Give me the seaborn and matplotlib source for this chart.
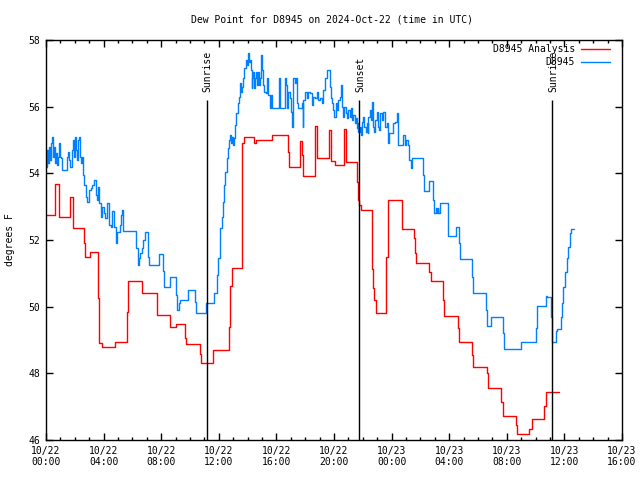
import matplotlib
matplotlib.use("Agg")
import matplotlib.pyplot as plt
import seaborn as sns
import pandas as pd
from matplotlib.lines import Line2D
from matplotlib.ticker import MultipleLocator

# ---- data (hours after 2024-10-22 00:00 UTC, dew point in degrees F) ----
analysis_hours = [0.00, 0.62, 0.90, 1.67, 1.85, 2.66, 2.71, 3.06, 3.63, 3.68, 3.91, 4.79,
                  5.65, 5.72, 6.65, 7.69, 8.61, 9.03, 9.65, 9.72, 10.69, 10.76, 11.62,
                  12.71, 12.78, 12.81, 12.90, 13.59, 13.63, 13.75, 14.47, 14.58, 15.67,
                  16.78, 16.90, 17.67, 17.81, 17.87, 18.68, 18.84, 19.63, 19.79, 20.07,
                  20.66, 20.83, 21.58, 21.69, 21.77, 21.88, 22.62, 22.67, 22.74, 22.81,
                  22.90, 23.61, 23.72, 24.70, 25.58, 25.62, 25.69, 26.62, 26.72, 27.60,
                  27.67, 28.63, 28.70, 29.60, 29.67, 30.60, 30.66, 30.72, 31.60, 31.72,
                  32.62, 32.69, 33.54, 33.73, 34.60, 34.70, 35.62]
analysis_values = [52.75, 53.67, 52.70, 53.30, 52.36, 51.90, 51.50, 51.63, 50.26, 48.92, 48.79, 48.93,
                   49.85, 50.77, 50.40, 49.75, 49.38, 49.47, 49.05, 48.87, 48.58, 48.30, 48.69,
                   49.40, 50.10, 50.62, 51.15, 51.45, 54.90, 55.08, 54.92, 55.00, 55.14,
                   54.65, 54.20, 54.97, 54.55, 53.92, 55.43, 54.45, 55.30, 54.37, 54.25,
                   55.33, 54.35, 53.75, 53.20, 53.05, 52.90, 52.30, 51.13, 50.55, 50.20,
                   49.80, 51.50, 53.20, 52.32, 52.05, 51.60, 51.30, 51.05, 50.78, 50.20,
                   49.72, 49.35, 48.93, 48.55, 48.18, 48.00, 47.73, 47.55, 47.15, 46.72,
                   46.45, 46.17, 46.33, 46.62, 47.02, 47.43, 47.43]

obs_hours = [0.00, 0.07, 0.14, 0.21, 0.28, 0.35, 0.42, 0.49, 0.56, 0.62, 0.69, 0.76, 0.83,
             0.90, 0.97, 1.04, 1.11, 1.46, 1.53, 1.60, 1.67, 1.81, 1.88, 1.94, 2.01, 2.08,
             2.15, 2.22, 2.29, 2.36, 2.43, 2.50, 2.57, 2.64, 2.78, 2.87, 2.99, 3.10, 3.22,
             3.33, 3.45, 3.56, 3.63, 3.68, 3.80, 3.84, 3.91, 4.03, 4.10, 4.22, 4.26, 4.38,
             4.49, 4.56, 4.72, 4.84, 4.91, 5.14, 5.23, 5.30, 5.37, 5.42, 6.23, 6.37, 6.46,
             6.53, 6.67, 6.77, 6.88, 7.05, 7.10, 7.17, 7.87, 8.15, 8.19, 8.61, 9.03, 9.08,
             9.24, 9.31, 9.88, 10.38, 10.42, 11.11, 11.67, 11.85, 11.97, 12.08, 12.20,
             12.27, 12.36, 12.43, 12.55, 12.66, 12.74, 12.78, 12.85, 12.92, 12.99, 13.06,
             13.13, 13.19, 13.31, 13.42, 13.47, 13.54, 13.59, 13.70, 13.77, 13.87, 13.94,
             14.05, 14.12, 14.17, 14.24, 14.28, 14.34, 14.40, 14.44, 14.51, 14.58, 14.63,
             14.74, 14.81, 14.86, 14.93, 14.98, 15.09, 15.14, 15.26, 15.33, 15.44, 15.56,
             15.63, 15.67, 16.20, 16.25, 16.60, 16.67, 16.76, 16.83, 16.94, 17.01, 17.08,
             17.17, 17.29, 17.36, 17.41, 17.50, 17.76, 17.83, 17.87, 17.99, 18.10, 18.22,
             18.33, 18.45, 18.52, 18.68, 18.80, 18.87, 19.03, 19.15, 19.26, 19.38, 19.49,
             19.72, 19.77, 19.84, 19.95, 20.02, 20.12, 20.19, 20.30, 20.42, 20.49, 20.53,
             20.65, 20.72, 20.81, 20.88, 20.99, 21.11, 21.18, 21.27, 21.34, 21.46, 21.53,
             21.58, 21.65, 21.69, 21.81, 21.88, 21.92, 22.03, 22.10, 22.20, 22.27, 22.34,
             22.38, 22.50, 22.57, 22.64, 22.73, 22.80, 22.85, 22.97, 23.03, 23.15, 23.19,
             23.31, 23.42, 23.54, 23.66, 23.77, 23.82, 24.12, 24.24, 24.35, 24.47, 24.77,
             24.93, 25.00, 25.16, 25.23, 25.35, 25.40, 26.16, 26.25, 26.62, 26.90, 26.97,
             27.06, 27.13, 27.20, 27.24, 27.36, 27.90, 27.94, 28.45, 28.70, 28.75, 29.60,
             29.63, 30.58, 30.60, 30.90, 31.76, 31.81, 33.01, 34.03, 34.12, 34.70, 34.77,
             35.07, 35.12, 35.42, 35.51, 35.76, 35.81, 35.92, 36.04, 36.16, 36.27, 36.39,
             36.44, 36.69]
obs_values = [54.20, 54.70, 54.30, 54.80, 54.40, 54.90, 55.10, 54.50, 54.80, 54.30, 54.60, 54.25, 54.50,
              54.90, 54.50, 54.45, 54.10, 54.50, 54.65, 54.40, 54.20, 54.70, 55.00, 54.50, 55.10, 54.70,
              54.40, 55.00, 55.10, 54.50, 54.30, 54.50, 53.95, 53.65, 53.30, 53.15, 53.50, 53.55, 53.65,
              53.80, 53.35, 53.20, 53.60, 53.10, 53.00, 52.70, 53.00, 52.80, 52.65, 53.00, 53.10, 52.45,
              52.40, 52.87, 52.40, 51.90, 52.25, 52.45, 52.75, 52.90, 52.27, 52.27, 51.75, 51.25, 51.45,
              51.60, 51.75, 52.00, 52.23, 51.75, 51.50, 51.25, 51.57, 51.07, 50.58, 50.88, 50.35, 49.90,
              50.10, 50.20, 50.50, 50.15, 49.80, 50.10, 50.40, 50.95, 51.45, 52.37, 52.70,
              53.15, 53.65, 54.05, 54.45, 54.75, 55.00, 55.15, 54.90, 55.10, 54.85, 55.05,
              55.45, 55.80, 56.10, 56.30, 56.70, 56.45, 56.60, 56.85, 57.15, 57.40, 57.25,
              57.60, 57.35, 57.40, 57.10, 56.55, 56.85, 57.05, 56.55, 56.85, 57.05, 56.65,
              57.05, 56.65, 56.85, 57.55, 57.10, 56.65, 56.45, 56.40, 56.85, 56.35, 55.95,
              56.35, 55.95, 56.85, 55.95, 56.85, 56.65, 55.95, 56.45, 56.25, 55.85, 55.40,
              56.85, 56.70, 56.85, 56.10, 55.95, 56.10, 55.40, 56.20, 56.45, 56.25, 56.45,
              56.40, 56.05, 56.30, 56.25, 56.45, 56.20, 56.25, 56.10, 56.50, 56.85, 57.10,
              56.60, 56.25, 56.10, 55.90, 55.70, 56.10, 55.90, 56.20, 56.30, 56.65, 56.00,
              55.70, 56.00, 55.80, 55.65, 55.90, 55.70, 55.95, 55.60, 55.75, 55.50, 55.65,
              55.35, 55.50, 55.25, 55.40, 55.15, 55.55, 55.70, 55.40, 55.25, 55.50, 55.20,
              55.70, 55.90, 55.60, 56.15, 55.40, 55.25, 55.60, 55.85, 55.40, 55.30, 55.80,
              55.60, 55.85, 55.40, 55.50, 54.90, 55.20, 55.50, 55.55, 55.80, 54.85, 55.15,
              54.85, 55.00, 54.85, 54.40, 54.15, 54.45, 53.95, 53.47, 53.77, 53.20, 52.80,
              52.95, 52.80, 52.95, 52.80, 53.10, 52.65, 52.12, 52.38, 51.90, 51.42, 50.90,
              50.42, 49.90, 49.42, 49.70, 49.20, 48.73, 48.95, 49.35, 50.02, 50.32, 50.28,
              49.70, 48.95, 49.27, 49.32, 49.70, 50.10, 50.60, 51.05, 51.45, 51.80, 52.20,
              52.32, 52.32]

event_hours = [11.19, 21.75, 35.15]
event_labels = ["Sunrise", "Sunset", "Sunrise"]

tick_hours = [0, 4, 8, 12, 16, 20, 24, 28, 32, 36, 40]
tick_labels = ["10/22\n00:00", "10/22\n04:00", "10/22\n08:00", "10/22\n12:00",
               "10/22\n16:00", "10/22\n20:00", "10/23\n00:00", "10/23\n04:00",
               "10/23\n08:00", "10/23\n12:00", "10/23\n16:00"]
y_ticks = [46, 48, 50, 52, 54, 56, 58]

series_names = ["D8945 Analysis", "D8945"]
series_colors = ["#ff0000", "#0080ff"]

# ---- style ----
sns.set_style("ticks", {"axes.edgecolor": "black", "xtick.color": "black",
                        "ytick.color": "black", "text.color": "black",
                        "axes.labelcolor": "black"})
plt.rcParams['font.family'] = ['DejaVu Sans Mono', 'DejaVu Sans']
FS = 7
LW = 1.0

fig = plt.figure(figsize=(6.4, 4.8), dpi=100)
ax = fig.add_axes([46 / 640, 40 / 480, 576 / 640, 400 / 480])

df_a = pd.DataFrame({"hour": analysis_hours, "dewpoint": analysis_values})
df_o = pd.DataFrame({"hour": obs_hours, "dewpoint": obs_values})

sns.lineplot(data=df_a, x="hour", y="dewpoint", ax=ax, color=series_colors[0],
             drawstyle="steps-post", estimator=None, sort=False, lw=LW)
sns.lineplot(data=df_o, x="hour", y="dewpoint", ax=ax, color=series_colors[1],
             drawstyle="steps-post", estimator=None, sort=False, lw=LW)

# event lines
ax.vlines(event_hours, 46, 56.2, color="black", lw=1.0)
for h, lab in zip(event_hours, event_labels):
    ax.text(h + 0.05, 56.44, lab, rotation=90, ha="center", va="bottom", fontsize=FS)

ax.set_xlim(0, 40)
ax.set_ylim(46, 58)
ax.set_xticks(tick_hours)
ax.set_xticklabels(tick_labels, fontsize=FS, linespacing=1.15)
ax.xaxis.set_minor_locator(MultipleLocator(1))
ax.set_yticks(y_ticks)
ax.set_yticklabels([str(v) for v in y_ticks], fontsize=FS)
ax.tick_params(which="major", direction="in", top=True, right=True, length=5, width=1, pad=4)
ax.tick_params(which="minor", direction="in", top=True, right=False, left=False, length=2.5, width=1)
ax.tick_params(axis="y", which="minor", left=False, right=False)
for s in ax.spines.values():
    s.set_linewidth(1.0)
    s.set_color("black")
ax.set_xlabel("")
ax.set_ylabel("")

fig.text(10 / 640, 0.5, "degrees F", rotation=90, ha="center", va="center", fontsize=FS)
fig.text(332 / 640, 1 - 19 / 480, "Dew Point for D8945 on 2024-Oct-22 (time in UTC)",
         ha="center", va="center", fontsize=FS)

# key (top right, text right-aligned, sample to the right)
rows_y = [(440 - 49) / 400, (440 - 62) / 400]
for name, col, yy in zip(series_names, series_colors, rows_y):
    ax.text((575 - 46) / 576, yy, name, transform=ax.transAxes, ha="right", va="center", fontsize=FS)
    ax.add_line(Line2D([(581 - 46) / 576, (610 - 46) / 576], [yy, yy], transform=ax.transAxes,
                       color=col, lw=LW))

fig.savefig("out.png", dpi=100)
